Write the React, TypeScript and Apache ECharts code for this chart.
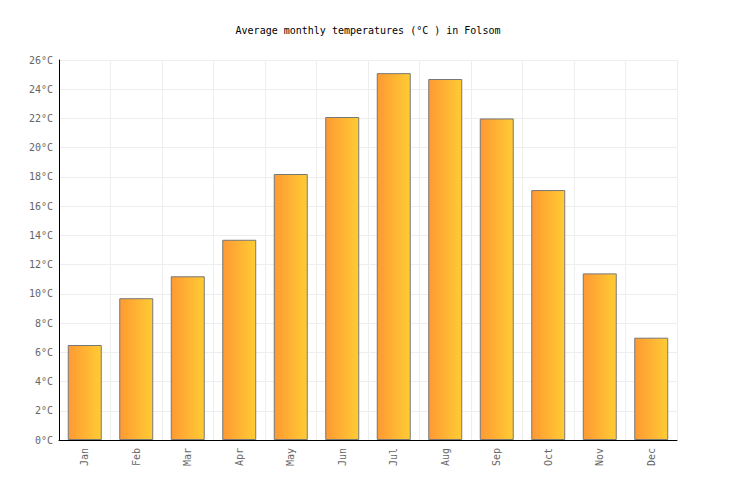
import { useEffect, useRef } from 'react';
import * as echarts from 'echarts';

const months = ['Jan', 'Feb', 'Mar', 'Apr', 'May', 'Jun', 'Jul', 'Aug', 'Sep', 'Oct', 'Nov', 'Dec'];
const temps = [6.5, 9.7, 11.2, 13.7, 18.2, 22.1, 25.1, 24.7, 22.0, 17.1, 11.4, 7.0];

const FONT = '"DejaVu Sans Mono", monospace';

const App = () => {
  const chartRef = useRef<HTMLDivElement>(null);

  useEffect(() => {
    if (!chartRef.current) return;
    const chart = echarts.init(chartRef.current, null, { renderer: 'svg' });

    const options: echarts.EChartsOption = {
      animation: false,
      backgroundColor: '#fff',
      title: {
        text: 'Average monthly temperatures (°C ) in Folsom',
        left: 'center',
        top: 20,
        textStyle: { fontFamily: FONT, fontSize: 10, fontWeight: 'normal', color: '#000' }
      },
      grid: { left: 59, right: 59, top: 60, bottom: 60 },
      xAxis: {
        type: 'category',
        data: months,
        axisLine: { lineStyle: { color: '#000', width: 1 } },
        axisTick: { show: false },
        axisLabel: { rotate: 90, fontFamily: FONT, fontSize: 10, color: '#666', margin: 8 },
        splitLine: { show: true, interval: 0, lineStyle: { color: '#eee' } }
      },
      yAxis: {
        type: 'value',
        min: 0,
        max: 26,
        interval: 2,
        axisLine: { show: true, lineStyle: { color: '#000', width: 1 } },
        axisTick: { show: false },
        axisLabel: { formatter: '{value}°C', fontFamily: FONT, fontSize: 10, color: '#666', margin: 6 },
        splitLine: { lineStyle: { color: '#eee' } }
      },
      series: [
        {
          type: 'bar',
          data: temps,
          barWidth: '66%',
          itemStyle: {
            color: new echarts.graphic.LinearGradient(0, 0, 1, 0, [
              { offset: 0, color: '#ff9933' },
              { offset: 1, color: '#ffcc33' }
            ]),
            borderColor: '#777',
            borderWidth: 1
          }
        }
      ]
    };

    chart.setOption(options);
    return () => chart.dispose();
  }, []);

  return <div ref={chartRef} style={{ width: 736, height: 500, margin: -8 }} />;
};

export default App;
